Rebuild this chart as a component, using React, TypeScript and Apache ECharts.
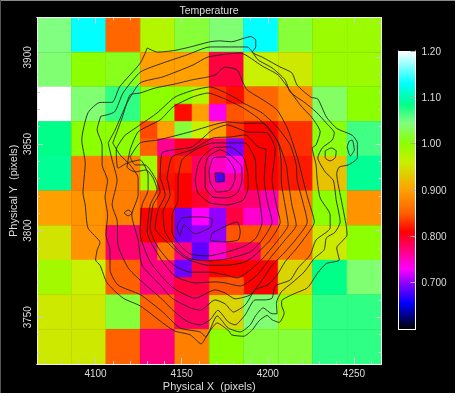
import React, { useEffect, useRef } from "react";
import * as echarts from "echarts";

const titleText = "Temperature";
const xName = "Physical X  (pixels)";
const yName = "Physical Y  (pixels)";
const xMajor = [4100, 4150, 4200, 4250];
const xMinor = [4070, 4080, 4090, 4110, 4120, 4130, 4140, 4160, 4170, 4180, 4190, 4210, 4220, 4230, 4240, 4260];
const yMajor = [3750, 3800, 3850, 3900];
const yMinor = [3730, 3740, 3760, 3770, 3780, 3790, 3810, 3820, 3830, 3840, 3860, 3870, 3880, 3890, 3910, 3920];
const barTicks = [0.7, 0.8, 0.9, 1.0, 1.1, 1.2];
const barLabels = ["0.700", "0.800", "0.900", "1.00", "1.10", "1.20"];
const scaleValues = [0.6, 0.655, 0.695, 0.73, 0.77, 0.81, 0.85, 0.9, 0.96, 1.0, 1.045, 1.085, 1.13, 1.2];
const scaleColors = ["#000000", "#0000ff", "#8000ff", "#ff00ff", "#ff0080", "#ff0000", "#ff6000", "#ffa000", "#c8f000", "#8cff00", "#80ff80", "#00ff88", "#00ffff", "#ffffff"];

// base bins, 20 units wide; top row first
const row0 = [1.045, 1.13, 0.855, 0.975, 1.02, 1.04, 1.13, 1.02, 0.99, 0.99];
const row1 = [1.04, 1.0, 1.01, 0.9, 0.9, 0.79, 0.96, 0.955, 0.99, 0.99];
const row2 = [1.2, 1.04, 1.07, 1.0, 0.9, 0.8, 0.855, 0.885, 1.035, 1.0];
const row3 = [1.085, 1.0, 1.0, 0.85, 0.9, 0.8, 0.81, 0.83, 1.005, 1.065];
const row4 = [1.09, 0.875, 0.875, 0.85, 0.8, 0.75, 0.81, 0.82, 0.925, 1.09];
const row5 = [0.9, 0.89, 0.875, 0.82, 0.75, 0.75, 0.76, 0.875, 1.0, 0.89];
const row6 = [0.95, 0.89, 0.775, 0.8, 0.72, 0.75, 0.8, 0.865, 0.955, 1.0];
const row7 = [0.985, 0.96, 0.85, 0.77, 0.79, 0.82, 0.81, 0.94, 1.085, 1.04];
const row8 = [0.955, 0.955, 1.02, 0.85, 0.78, 0.94, 1.04, 0.985, 1.07, 1.07];
const row9 = [0.955, 0.955, 0.85, 0.77, 0.875, 1.0, 1.02, 1.02, 1.07, 1.07];
const baseRows = [row0, row1, row2, row3, row4, row5, row6, row7, row8, row9];

// finer bins: x, y, value (10 units wide)
const fineBins = [
  [4146, 3873, 1.0], [4156, 3873, 0.975], [4146, 3863, 0.815], [4156, 3863, 0.9],
  [4166, 3873, 0.83], [4176, 3873, 0.815], [4166, 3863, 0.735], [4176, 3863, 0.845],
  [4126, 3853, 0.84], [4136, 3853, 0.9], [4126, 3843, 0.85], [4136, 3843, 0.765],
  [4146, 3853, 1.02], [4156, 3853, 0.96], [4146, 3843, 0.8], [4156, 3843, 0.8],
  [4166, 3853, 0.9], [4176, 3853, 0.83], [4166, 3843, 0.78], [4176, 3843, 0.695],
  [4126, 3833, 0.985], [4136, 3833, 0.82], [4126, 3823, 0.985], [4136, 3823, 0.815],
  [4146, 3833, 0.825], [4156, 3833, 0.78], [4146, 3823, 0.81], [4156, 3823, 0.78],
  [4166, 3833, 0.75], [4176, 3833, 0.735], [4166, 3823, 0.76], [4176, 3823, 0.765],
  [4126, 3813, 0.855], [4136, 3813, 0.825], [4126, 3803, 0.81], [4136, 3803, 0.81],
  [4146, 3813, 0.81], [4156, 3813, 0.795], [4146, 3803, 0.69], [4156, 3803, 0.73],
  [4166, 3813, 0.775], [4176, 3813, 0.78], [4166, 3803, 0.7], [4176, 3803, 0.79],
  [4186, 3813, 0.775], [4196, 3813, 0.755], [4186, 3803, 0.745], [4196, 3803, 0.745],
  [4126, 3793, 0.81], [4136, 3793, 0.81], [4126, 3783, 0.77], [4136, 3783, 0.865],
  [4146, 3793, 0.69], [4156, 3793, 0.7], [4146, 3783, 0.77], [4156, 3783, 0.685],
  [4166, 3793, 0.7], [4176, 3793, 0.845], [4166, 3783, 0.745], [4176, 3783, 0.78],
  [4186, 3793, 0.845], [4196, 3793, 0.845], [4186, 3783, 0.78], [4196, 3783, 0.85],
  [4146, 3773, 0.69], [4156, 3773, 0.79], [4146, 3763, 0.79], [4156, 3763, 0.79],
  [4166, 3773, 0.81], [4176, 3773, 0.81], [4166, 3763, 0.845], [4176, 3763, 0.845],
];
const peakBin = [4170, 3828, 5, 0.68];

// contours, in physical pixels
const contour1 = [[4130,3905.4],[4136,3903],[4146,3904],[4155,3906],[4166.5,3909],[4172,3909.5],[4179,3909],[4186,3911],[4190,3912],[4193,3910],[4193,3906],[4191,3903],[4197,3900],[4207,3894.5],[4214,3891],[4217,3884],[4225,3877],[4229,3876],[4234,3865.6],[4240,3859],[4249,3855],[4252,3850.6],[4252,3842],[4247,3838],[4241.5,3836.7],[4240,3833],[4243,3816],[4245.5,3803],[4246,3797.5],[4240,3790],[4241.5,3783],[4234,3781],[4229,3775.6],[4223,3767],[4214,3763],[4208,3759.4],[4208,3757],[4209.5,3752.5],[4206.6,3747],[4202.5,3748.5],[4199.6,3751],[4195,3748],[4191,3742.7],[4186,3739],[4179,3739.8],[4177.5,3742],[4170.6,3746.7],[4165,3740],[4161.3,3734.6],[4155,3739.8],[4146,3742],[4139,3746.7],[4126,3756.5],[4116,3761],[4106.7,3769.8],[4102.6,3780],[4100,3783],[4101,3789],[4102.6,3793],[4095.6,3801.5],[4094,3814.8],[4092.7,3821.7],[4094,3839],[4092,3852.3],[4095.6,3868],[4102.6,3874],[4109.6,3874],[4114,3883],[4126,3896.7]];
const contour2 = [[4103,3866],[4111,3868.5],[4116,3879.5],[4126,3891.5],[4139,3896.7],[4153,3901.4],[4166.5,3906],[4179,3906],[4188,3906],[4194.4,3898.5],[4202.5,3893.9],[4210,3887],[4213,3880],[4221.7,3873.7],[4228,3868.5],[4234,3862],[4238.6,3856.4],[4237.4,3852.3],[4231.6,3847.7],[4229,3842],[4233.3,3833.9],[4238,3829],[4239.7,3817.7],[4242,3805],[4239,3799],[4234,3795.8],[4232.7,3788.9],[4227,3784],[4221,3776],[4214,3769.8],[4207.8,3764.6],[4205,3758],[4205.4,3752],[4202.5,3752],[4197.3,3755.4],[4193,3751],[4189.8,3745.6],[4184,3741.5],[4177,3743.8],[4170.6,3750.8],[4164,3738.6],[4160.7,3741.5],[4149,3743.8],[4139,3753],[4126,3763],[4113,3768.6],[4108.4,3777.3],[4108.4,3788.9],[4106,3797.5],[4107,3809],[4105.5,3819.4],[4107,3829],[4103.8,3837.9],[4103.8,3849.4],[4100.9,3858.1]];
const contour3 = [[4107.3,3850.6],[4111.3,3858],[4118.3,3873.7],[4125.8,3885.2],[4139,3888.7],[4156.6,3895.6],[4165.3,3900.2],[4184,3902.5],[4196.7,3895],[4206,3889.8],[4211.8,3882.3],[4218.8,3872.5],[4225.8,3865],[4230.4,3857],[4228,3849.4],[4225.8,3847.7],[4228,3837.9],[4228.7,3829],[4230.4,3818.8],[4236.2,3809],[4236.2,3801.5],[4228,3794.6],[4224.6,3786],[4217.6,3778.5],[4213,3771.5],[4204.3,3768],[4202.5,3761],[4198.5,3760],[4192.6,3760],[4186.8,3751.3],[4181,3745.6],[4177,3747.3],[4171,3754],[4166.5,3748.5],[4160.7,3745.6],[4153.7,3747.3],[4146,3753],[4139,3760],[4125.8,3771.5],[4118.9,3778.5],[4113,3791.7],[4112.5,3806],[4109.6,3814.8],[4112.5,3829],[4109.6,3840.8]];
const contour4 = [[4110,3850.6],[4115.4,3865],[4120,3878.3],[4125.8,3879.4],[4134.6,3882.3],[4146,3884.6],[4156,3887],[4165.3,3888.7],[4169.4,3889.8],[4175.2,3894.4],[4182.2,3892.7],[4185.7,3885.2],[4188,3881.2],[4197.3,3875.4],[4205.4,3869.6],[4211.8,3858],[4217.6,3840.8],[4220.5,3829.2],[4223.5,3817.7],[4227,3805],[4220.5,3794.6],[4216,3788.9],[4210,3782],[4205.4,3774.4],[4200,3768.7],[4192.7,3765.8],[4186.8,3757],[4180,3753],[4175.2,3757.7],[4169.4,3760],[4160.7,3754],[4155,3755.4],[4144.4,3761],[4137.5,3768.6],[4127,3780],[4124.7,3794.6],[4121,3809],[4124.7,3820.6],[4124.7,3830.4],[4120,3837.9],[4114.2,3843.7]];
const contour5 = [[4117,3855],[4125.8,3861],[4135.7,3867.9],[4146,3877],[4156.6,3881],[4166.5,3882.9],[4178,3878.3],[4185.7,3873.7],[4196.7,3867.9],[4205.4,3859.8],[4213,3849.4],[4216.5,3837.9],[4217,3829.2],[4220,3817.7],[4222.9,3805],[4216,3794.6],[4210,3787.7],[4202.5,3780],[4196.7,3771.5],[4189.8,3762.9],[4181,3760.6],[4175.2,3764],[4169.4,3765.8],[4157.8,3761],[4144.4,3767.5],[4131.7,3782],[4125.8,3799],[4127,3814.8],[4130.5,3823.5],[4130.5,3832],[4125.8,3840.8],[4118.3,3839],[4113,3836],[4112,3846.6]];
const contour6 = [[4120,3846.6],[4124.7,3857],[4137.5,3863.9],[4145,3871.4],[4156,3877],[4165.3,3879.4],[4176.4,3875.4],[4185.7,3870.8],[4195.6,3863.9],[4205.4,3852.3],[4210.7,3837.9],[4211.8,3829.2],[4214,3814.8],[4216.5,3803.3],[4210,3794.6],[4201.4,3784.2],[4193.8,3774.4],[4184,3768],[4175.2,3769.8],[4169.4,3770.4],[4157.8,3769.8],[4146,3773.8],[4137.5,3784.2],[4130,3799.2],[4131.7,3814.8],[4135.7,3823.5],[4133.4,3830.4],[4129.3,3835],[4123,3833.9],[4118.3,3836.7]];
const contour7 = [[4120,3842.5],[4125.8,3850.6],[4136.3,3852.3],[4154.9,3857],[4168.3,3861],[4176.4,3862.7],[4185.7,3862],[4197.3,3862],[4206,3850.6],[4207.8,3837.9],[4207.8,3829.2],[4210,3814.8],[4211.8,3803.3],[4206,3794.6],[4197.3,3784.2],[4189.8,3777.3],[4182.2,3772.7],[4175.2,3774.4],[4166.5,3776],[4154.9,3776],[4144.4,3780.8],[4135.7,3791.2],[4131.7,3801.5],[4133.4,3814.8],[4137.5,3822.3],[4134.6,3830.4],[4128.7,3837.9],[4123,3837.9]];
const contour8 = [[4137.5,3830.4],[4138.6,3844.8],[4145,3846.6],[4156,3848.3],[4167.7,3858],[4176.4,3861],[4188,3857],[4199.6,3856.4],[4204.3,3846.6],[4202.5,3829.2],[4204.9,3814.8],[4207.2,3805],[4201.4,3794.6],[4192.7,3786],[4186.8,3781.9],[4176.4,3780],[4165.3,3780],[4152,3784.2],[4143.3,3791.7],[4134.6,3801.5],[4136.3,3811.9],[4140.4,3820.6]];
const contour9 = [[4141.5,3830.4],[4144.4,3842.5],[4156,3846.6],[4168.3,3853.5],[4178,3854],[4186.8,3855.2],[4194.4,3848.3],[4199,3846.6],[4197.9,3829.2],[4200.2,3814.8],[4202.5,3805],[4196.7,3794.6],[4189.8,3787.7],[4176.4,3783.7],[4165.3,3782.5],[4153.7,3784.2],[4146.8,3790],[4140.4,3799.2],[4139.2,3810.8],[4143.3,3820.6]];
const contour10 = [[4147.9,3830.4],[4150.2,3840.8],[4157.8,3846.6],[4168.3,3850.6],[4178,3850.6],[4186.8,3850.6],[4192.7,3840.8],[4193.2,3829.2],[4195.6,3814.8],[4196.7,3805],[4193.2,3795.8],[4186.8,3791.2],[4176.4,3787.7],[4165.3,3785.4],[4154.9,3786.5],[4149,3791.7],[4144.4,3799.2],[4144.4,3809],[4147.9,3817.7]];
const contour11 = [[4157.8,3829.2],[4159.5,3837.9],[4161.9,3842.5],[4168.3,3847.7],[4178,3848.3],[4185.7,3842.5],[4188.6,3831],[4188.6,3825.2],[4185.7,3817.7],[4176.4,3814.8],[4166.5,3816],[4159.5,3821.7]];
const contour12 = [[4163.6,3836.7],[4165.3,3842.5],[4172.3,3846.6],[4178,3843.7],[4185,3836.2],[4185,3829.2],[4182.2,3821.7],[4176.4,3818.9],[4168.3,3819.4],[4163.6,3825.2]];
const contour13 = [[4165.9,3835],[4168.3,3841.9],[4175.2,3842.5],[4181,3833.9],[4181,3830.4],[4178,3823.5],[4170.6,3822.3],[4166.5,3828.1]];
const contour14 = [[4169.4,3833.3],[4174,3833.3],[4174.6,3828.7],[4170,3828.1]];
const secondaryA = [[4149,3796.9],[4151.4,3803.3],[4157.8,3798.1],[4167,3802.1],[4167.7,3806.7],[4160.7,3807.9],[4150.2,3807.3],[4147.3,3801.5]];
const secondaryB = [[4167.7,3798.7],[4182.2,3805],[4184,3799.2],[4182.8,3794.6],[4175.2,3793.5],[4166.5,3794.6]];
const islandA = [[4233.3,3846],[4236.8,3847.7],[4239.7,3846],[4239.1,3842],[4236.2,3840.2],[4233.3,3842]];
const islandB = [[4247.3,3851.7],[4249,3852.3],[4250.2,3846.6],[4247.9,3843.1],[4246.1,3848.3]];
const islandC = [[4116.5,3810.2],[4118.9,3811.9],[4121.2,3810.2],[4118.9,3808.5]];
const contours = [contour1, contour2, contour3, contour4, contour5, contour6, contour7, contour8, contour9, contour10, contour11, contour12, contour13, contour14, secondaryA, secondaryB, islandA, islandB, islandC];

function hexToRgb(h: string) {
  return [parseInt(h.slice(1, 3), 16), parseInt(h.slice(3, 5), 16), parseInt(h.slice(5, 7), 16)];
}
function colorOf(v: number) {
  let i = 0;
  while (i < scaleValues.length - 2 && v > scaleValues[i + 1]) i++;
  const t = Math.min(1, Math.max(0, (v - scaleValues[i]) / (scaleValues[i + 1] - scaleValues[i])));
  const a = hexToRgb(scaleColors[i]);
  const b = hexToRgb(scaleColors[i + 1]);
  return `rgb(${a.map((c, k) => Math.round(c + (b[k] - c) * t)).join(",")})`;
}

const textColor = "#dddddd";
const fontFamily = "'Liberation Sans', Arial, sans-serif";
const plain = (v: number) => String(v);

function axisFor(kind: "x" | "y", pos: string, gridIndex: number, min: number, max: number, ticks: number[], len: number, extra: any = {}) {
  return {
    type: "value",
    gridIndex,
    position: pos,
    min,
    max,
    z: 5,
    scale: true,
    splitLine: { show: false },
    axisLine: { show: true, onZero: false, lineStyle: { color: "#eeeeee", width: 1 } },
    axisTick: { show: true, inside: true, length: len, customValues: ticks, lineStyle: { color: "#cccccc", width: 1 } },
    axisLabel: { show: false },
    ...extra,
  };
}

export default function App() {
  const ref = useRef<HTMLDivElement>(null);
  useEffect(() => {
    document.body.style.margin = "0";
    document.body.style.background = "#fff";
    const chart = echarts.init(ref.current!, undefined, { renderer: "svg" });
    const cells: number[][] = [];
    baseRows.forEach((row, r) =>
      row.forEach((v, c) => cells.push([4066 + 20 * c, 3903 - 20 * r, 20, v]))
    );
    fineBins.forEach((b) => cells.push([b[0], b[1], 10, b[2]]));
    cells.push(peakBin);

    const xMin = 4066, xMax = 4266, yMin = 3723, yMax = 3923;
    const label = (extra: any) => ({
      show: true,
      color: textColor,
      fontFamily,
      fontSize: 10,
      ...extra,
    });
    const nameStyle = { color: textColor, fontFamily, fontSize: 11 };

    chart.setOption({
      animation: false,
      backgroundColor: "#000000",
      title: {
        text: titleText,
        left: 209,
        top: 4,
        padding: 0,
        textAlign: "center",
        textStyle: { color: textColor, fontFamily, fontSize: 10.5, fontWeight: "normal" },
      },
      graphic: [
        { type: "rect", shape: { x: 0, y: 0, width: 455, height: 1 }, style: { fill: "#8a8a8a" } },
        { type: "rect", shape: { x: 0, y: 0, width: 1, height: 393 }, style: { fill: "#555555" } },
      ],
      grid: [
        { left: 37, top: 17.5, width: 344.5, height: 346.5, containLabel: false, outerBoundsMode: "none" },
        { left: 398.5, top: 51, width: 17, height: 278, containLabel: false, outerBoundsMode: "none" },
      ],
      xAxis: [
        axisFor("x", "bottom", 0, xMin, xMax, xMajor, 6, {
          name: xName,
          nameLocation: "middle",
          nameGap: 16,
          nameMoveOverlap: false,
          nameTextStyle: nameStyle,
          axisLabel: label({ customValues: xMajor, margin: 4, formatter: plain }),
        }),
        axisFor("x", "bottom", 0, xMin, xMax, xMinor, 3),
        axisFor("x", "top", 0, xMin, xMax, xMajor, 6),
        axisFor("x", "top", 0, xMin, xMax, xMinor, 3),
        {
          type: "value", gridIndex: 1, min: 0, max: 1, position: "bottom", z: 5,
          splitLine: { show: false }, axisTick: { show: false }, axisLabel: { show: false },
          axisLine: { show: true, onZero: false, lineStyle: { color: "#ffffff", width: 1 } },
        },
      ],
      yAxis: [
        axisFor("y", "left", 0, yMin, yMax, yMajor, 6, {
          name: yName,
          nameLocation: "middle",
          nameGap: 19,
          nameMoveOverlap: false,
          nameTextStyle: nameStyle,
          axisLabel: label({ customValues: yMajor, rotate: 90, margin: 5, formatter: plain }),
        }),
        axisFor("y", "left", 0, yMin, yMax, yMinor, 3),
        axisFor("y", "right", 0, yMin, yMax, yMajor, 6),
        axisFor("y", "right", 0, yMin, yMax, yMinor, 3),
        {
          type: "value", gridIndex: 1, min: 0.6, max: 1.2, position: "right", z: 5,
          splitLine: { show: false },
          axisLine: { show: true, onZero: false, lineStyle: { color: "#ffffff", width: 1 } },
          axisTick: { show: true, inside: true, length: 5, customValues: barTicks, lineStyle: { color: "#aaaaaa", width: 1 } },
          axisLabel: label({
            customValues: barTicks,
            margin: 6,
            formatter: (v: number) => barLabels[barTicks.findIndex((t) => Math.abs(t - v) < 1e-6)] ?? "",
          }),
        },
        {
          type: "value", gridIndex: 1, min: 0.6, max: 1.2, position: "left", z: 5,
          splitLine: { show: false }, axisTick: { show: false }, axisLabel: { show: false },
          axisLine: { show: true, onZero: false, lineStyle: { color: "#ffffff", width: 1 } },
        },
      ],
      series: [
        {
          type: "custom",
          xAxisIndex: 0,
          yAxisIndex: 0,
          clip: true,
          z: 2,
          data: cells,
          encode: { x: 0, y: 1 },
          renderItem: (_p: any, api: any) => {
            const x = api.value(0), y = api.value(1), s = api.value(2), v = api.value(3);
            const a = api.coord([x, y + s]);
            const b = api.coord([x + s, y]);
            const c = colorOf(v);
            return {
              type: "rect",
              shape: { x: a[0], y: a[1], width: b[0] - a[0], height: b[1] - a[1] },
              style: { fill: c, stroke: c, lineWidth: 0.5 },
            };
          },
        },
        {
          type: "custom",
          xAxisIndex: 4,
          yAxisIndex: 4,
          z: 2,
          data: [[0, 0.6, 1, 1.2]],
          encode: { x: 0, y: 1 },
          renderItem: (_p: any, api: any) => {
            const a = api.coord([api.value(0), api.value(3)]);
            const b = api.coord([api.value(2), api.value(1)]);
            const stops = scaleValues.map((v, i) => ({ offset: (1.2 - v) / 0.6, color: scaleColors[i] })).reverse();
            return {
              type: "rect",
              shape: { x: a[0], y: a[1], width: b[0] - a[0], height: b[1] - a[1] },
              style: { fill: new echarts.graphic.LinearGradient(0, 0, 0, 1, stops) },
            };
          },
        },
        ...contours.map((c) => ({
          type: "line",
          xAxisIndex: 0,
          yAxisIndex: 0,
          z: 3,
          showSymbol: false,
          symbol: "none",
          silent: true,
          smooth: 0.2,
          lineStyle: { color: "#222222", width: 0.9 },
          data: [...c, c[0]],
        })),
      ],
    });
    return () => chart.dispose();
  }, []);
  return (
    <div style={{ width: 458, height: 396, background: "#ffffff", overflow: "hidden" }}>
      <div ref={ref} style={{ width: 455, height: 393, filter: "blur(0.4px)" }} />
    </div>
  );
}
